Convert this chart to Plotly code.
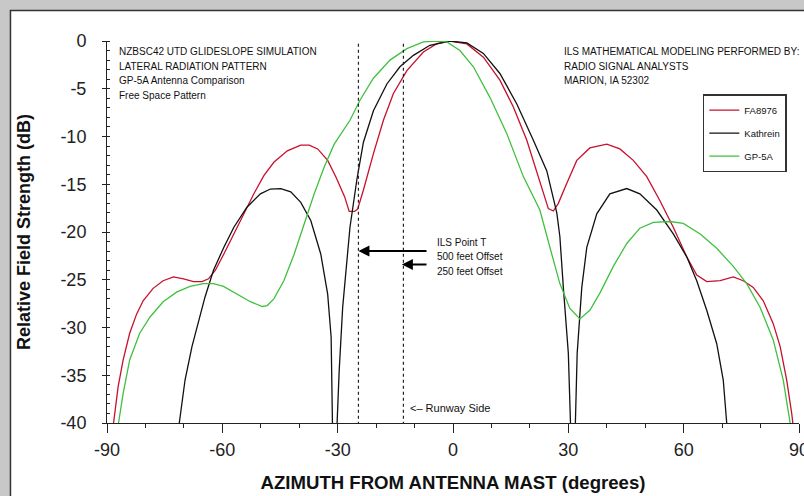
import plotly.graph_objects as go

# ---------------- data ----------------
fa_az = [-88.3, -87.1, -85.8, -84.1, -82.3, -80.6, -78.0, -75.4, -72.7, -70.1, -67.5, -65.3,
         -63.6, -61.8, -59.6, -57.0, -54.4, -51.8, -49.2, -46.6, -43.1, -39.6, -37.4, -35.2,
         -32.6, -30.4, -28.2, -27.0, -25.6, -24.8, -23.3, -20.7, -18.1, -15.5, -12.0, -7.7,
         -4.2, -0.8, 3.6, 7.9, 12.2, 15.7, 19.2, 22.6, 24.8, 26.1, 27.4, 29.6, 32.2, 35.6,
         40.0, 43.4, 46.9, 50.4, 53.8, 57.3, 60.8, 63.4, 66.0, 69.5, 72.9, 75.5, 78.1, 80.7,
         83.3, 85.1, 86.8, 88.1, 88.4]
fa_db = [-40.0, -36.2, -33.4, -30.6, -28.6, -27.2, -25.9, -25.1, -24.7, -24.9, -25.2, -25.2,
         -24.9, -24.0, -22.3, -20.2, -18.1, -16.0, -14.1, -12.7, -11.5, -10.9, -10.9, -11.3,
         -12.5, -14.3, -16.3, -17.85, -17.85, -17.6, -15.6, -11.8, -8.3, -5.5, -3.1, -1.15,
         -0.27, 0.0, -0.3, -1.7, -4.1, -6.9, -10.4, -14.6, -17.55, -17.8, -17.0, -14.9, -12.5, -11.2,
         -10.8, -11.3, -12.5, -14.2, -16.7, -19.5, -22.6, -24.5, -25.2, -25.1, -24.7, -25.1, -25.8, -27.2,
         -29.6, -32.0, -35.5, -39.0, -40.0]

ka_az = [-71.2, -69.7, -67.9, -66.2, -64.5, -62.3, -59.6, -57.0, -53.6, -50.1, -47.5, -44.8,
         -42.2, -39.6, -37.0, -34.4, -32.6, -31.7, -31.3, -31.0, -30.6, -30.2, -29.6, -28.7,
         -27.4, -26.8, -25.0, -23.3, -20.7, -17.2, -13.8, -10.3, -6.0, -0.8, 3.6, 7.9, 12.2,
         16.6, 20.9, 24.4, 27.0, 27.8, 28.7, 30.0, 30.6, 31.3, 31.8, 32.3, 33.5, 34.8, 37.4,
         40.8, 45.2, 48.6, 53.0, 57.3, 60.8, 63.4, 66.0, 68.6, 70.3, 71.2]
ka_db = [-40.0, -35.5, -32.0, -29.3, -26.8, -24.0, -21.6, -19.5, -17.4, -16.0, -15.5, -15.45,
         -15.8, -16.9, -18.8, -22.3, -26.5, -31.0, -36.3, -40.5, -60.0, -40.5, -34.5, -27.9,
         -22.3, -19.5, -14.5, -10.6, -7.3, -4.5, -2.7, -1.5, -0.45, 0.0, -0.2, -1.3, -3.4,
         -6.6, -10.4, -13.6, -18.0, -20.5, -25.8, -32.7, -40.5, -60.0, -40.5, -32.7, -25.8, -21.6, -18.1,
         -16.0, -15.45, -16.0, -17.7, -20.2, -22.6, -25.1, -28.2, -31.7, -35.5, -40.0]

gp_az = [-87.0, -85.8, -84.1, -81.5, -78.8, -75.4, -71.9, -68.4, -64.9, -62.3, -59.7, -56.2,
         -52.7, -49.6, -48.3, -46.6, -44.0, -41.3, -38.7, -36.1, -33.5, -30.9, -26.8, -24.2,
         -20.7, -16.4, -12.0, -7.7, -4.2, -1.6, 1.8, 5.3, 9.6, 14.0, 18.3, 22.6, 25.2, 27.8,
         30.4, 33.0, 35.6, 38.2, 41.7, 45.2, 48.6, 52.1, 56.5, 59.9, 64.3, 68.6, 72.9, 76.4,
         79.9, 83.3, 85.9, 87.7]
gp_db = [-40.0, -36.9, -33.4, -30.6, -28.9, -27.3, -26.3, -25.7, -25.4, -25.4, -25.7, -26.5,
         -27.3, -27.8, -27.7, -27.0, -25.1, -22.3, -19.1, -16.0, -13.2, -10.8, -8.3, -6.2,
         -3.9, -2.0, -0.8, -0.1, 0.0, -0.1, -1.0, -2.7, -5.9, -9.7, -14.2, -17.7, -21.6, -25.4,
         -28.0, -29.1, -28.2, -26.4, -23.6, -21.2, -19.6, -19.0, -18.9, -19.1, -20.2, -21.7, -23.6, -25.4,
         -27.9, -31.3, -35.5, -40.0]

series_names = ["FA8976", "Kathrein", "GP-5A"]

x_tick_vals = [-90, -60, -30, 0, 30, 60, 90]
x_tick_labels = ["-90", "-60", "-30", "0", "30", "60", "90"]
y_tick_vals = [0, -5, -10, -15, -20, -25, -30, -35, -40]
y_tick_labels = ["0", "-5", "-10", "-15", "-20", "-25", "-30", "-35", "-40"]

offset_azimuths = [-24.6, -12.9]          # ILS Point T offsets (500 ft, 250 ft)
arrow_levels = [-22.0, -23.4]             # dB where the arrows point
offset_labels = ["ILS Point T", "500 feet Offset", "250 feet Offset"]

header_left = ["NZBSC42 UTD GLIDESLOPE SIMULATION", "LATERAL RADIATION PATTERN",
               "GP-5A Antenna Comparison", "Free Space Pattern"]
header_right = ["ILS MATHEMATICAL MODELING PERFORMED BY:", "RADIO SIGNAL ANALYSTS",
                "MARION, IA 52302"]

# ---------------- figure ----------------
FONT = "Liberation Sans, Arial, sans-serif"
colors = ["#c8102e", "#111111", "#40c040"]

fig = go.Figure()
for i, (xs, ys) in enumerate([(fa_az, fa_db), (ka_az, ka_db), (gp_az, gp_db)]):
    fig.add_trace(go.Scatter(x=xs, y=ys, mode="lines", name=series_names[i],
                             legendgroup=series_names[i],
                             line=dict(color=colors[i], width=1.3)))

shapes = [
    # white panel with dark border over gray page
    dict(type="rect", xref="paper", yref="paper", x0=-0.1395, x1=1.05, y0=-0.25, y1=1.08,
         fillcolor="white", line=dict(color="#333333", width=1.5), layer="below"),
]
for xv in offset_azimuths:
    shapes.append(dict(type="line", xref="x", yref="y", x0=xv, x1=xv, y0=-0.3, y1=-40,
                       line=dict(color="#222222", width=1.2, dash="dot")))

annotations = []
small = dict(family=FONT, size=10, color="#111111")
right_font = dict(family=FONT, size=10, color="#111111")
left_rows = [-1.08, -2.65, -4.12, -5.69]
for t, yv in zip(header_left, left_rows):
    annotations.append(dict(x=-87.4, y=yv, xref="x", yref="y", text=t, showarrow=False,
                            xanchor="left", yanchor="middle", font=small))
for t, yv in zip(header_right, left_rows[:3]):
    annotations.append(dict(x=28.4, y=yv, xref="x", yref="y", text=t, showarrow=False,
                            xanchor="left", yanchor="middle", font=right_font))
for t, yv in zip(offset_labels, [-21.08, -22.55, -24.12]):
    annotations.append(dict(x=-4.7, y=yv, xref="x", yref="y", text=t, showarrow=False,
                            xanchor="left", yanchor="middle", font=small))
for xv, yv in zip([offset_azimuths[0], offset_azimuths[1] - 0.4], arrow_levels):
    annotations.append(dict(x=xv, y=yv, xref="x", yref="y", ax=-6.5, ay=yv,
                            axref="x", ayref="y", text="", showarrow=True,
                            arrowhead=2, arrowsize=1.1, arrowwidth=2, arrowcolor="#000000"))
annotations.append(dict(x=-11.7, y=-38.46, xref="x", yref="y", text="<– Runway Side",
                        showarrow=False, xanchor="left", yanchor="middle",
                        font=dict(family=FONT, size=11, color="#111111")))

fig.update_layout(
    width=804, height=496,
    margin=dict(l=107, r=5, t=41, b=73, autoexpand=False),
    paper_bgcolor="#c8c8c8",
    plot_bgcolor="rgba(0,0,0,0)",
    font=dict(family=FONT, color="#111111"),
    shapes=shapes,
    annotations=annotations,
    showlegend=True,
    legend=dict(x=0.861, y=0.861, xanchor="left", yanchor="top",
                bgcolor="white", bordercolor="#333333", borderwidth=1.5,
                font=dict(family=FONT, size=9.5, color="#111111"),
                tracegroupgap=4, itemwidth=30),
    xaxis=dict(range=[-90, 90], tickvals=x_tick_vals, ticktext=x_tick_labels,
               automargin=False,
               showgrid=False, zeroline=False, showline=True, linecolor="#222222", linewidth=1,
               ticks="outside", ticklen=9, tickcolor="#222222",
               minor=dict(dtick=10, ticks="outside", ticklen=4, tickcolor="#222222"),
               tickfont=dict(family=FONT, size=18, color="#222222"),
               ticklabelstandoff=1, ticklabeloverflow="allow",
               title=dict(text="<b>AZIMUTH FROM ANTENNA MAST (degrees)</b>",
                          font=dict(family=FONT, size=18.6, color="#111111"), standoff=17)),
    yaxis=dict(range=[-40, 0], tickvals=y_tick_vals, ticktext=y_tick_labels,
               automargin=False,
               showgrid=False, zeroline=False, showline=True, linecolor="#222222", linewidth=1,
               ticks="outside", ticklen=4, tickcolor="#222222",
               minor=dict(dtick=1, ticks="inside", ticklen=3, tickcolor="#222222"),
               tickfont=dict(family=FONT, size=18, color="#222222"),
               ticklabelstandoff=12,
               title=dict(text="<b>Relative Field Strength (dB)</b>",
                          font=dict(family=FONT, size=18, color="#111111"), standoff=25)),
)

fig.write_html("out.html", config={"displayModeBar": False},
               post_script="document.body.style.margin='0';document.body.style.overflow='hidden';")
